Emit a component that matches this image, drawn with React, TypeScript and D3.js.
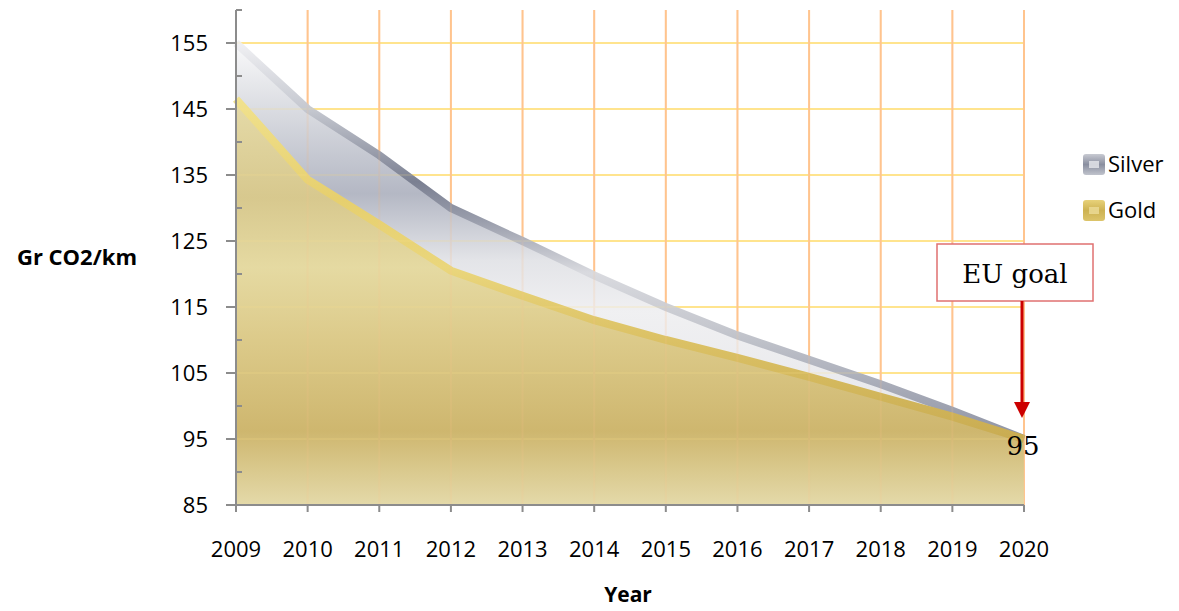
import React from "react";
import * as d3 from "d3";

const years = [2009, 2010, 2011, 2012, 2013, 2014, 2015, 2016, 2017, 2018, 2019, 2020];
const silver = [155, 145, 138, 130, 125, 119.8, 115, 110.7, 107, 103.3, 99.3, 95];
const gold = [146.5, 134.3, 127.5, 120.5, 116.7, 113, 110, 107.3, 104.4, 101.4, 98.4, 95];
const yTicks = [85, 95, 105, 115, 125, 135, 145, 155];
const yMinorTicks = [90, 100, 110, 120, 130, 140, 150, 160];

const W = 1179;
const H = 611;

export default function App() {
  const x = d3.scaleLinear().domain([2009, 2020]).range([236, 1024]);
  const y = d3.scaleLinear().domain([85, 160]).range([505, 10]);

  const area = (vals: number[]) =>
    d3
      .area<number>()
      .x((_, i) => x(years[i]))
      .y0(y(85))
      .y1((d) => y(d))(vals) as string;
  const line = (vals: number[]) =>
    d3
      .line<number>()
      .x((_, i) => x(years[i]))
      .y((d) => y(d))(vals) as string;

  const grid = (op: number) => (
    <g opacity={op}>
      {yTicks.slice(1).map((t) => (
        <line key={"h" + t} x1={x(2009)} x2={x(2020)} y1={y(t)} y2={y(t)} stroke="#FFE48E" strokeWidth={2} />
      ))}
      {years.slice(1).map((yr) => (
        <line key={"v" + yr} x1={x(yr)} x2={x(yr)} y1={y(160)} y2={y(85)} stroke="#FFC48E" strokeWidth={2} />
      ))}
    </g>
  );

  return (
    <svg width={W} height={H} style={{ position: "absolute", left: 0, top: 0 }} fontFamily="'Open Sans', sans-serif">
      <defs>
        <linearGradient id="silverFill" gradientUnits="userSpaceOnUse" x1="0" y1={y(155)} x2="0" y2={y(95)}>
          <stop offset="0" stopColor="#f9f9fa" />
          <stop offset="0.18" stopColor="#d6d8de" />
          <stop offset="0.38" stopColor="#b0b4c1" />
          <stop offset="0.55" stopColor="#e2e3e7" />
          <stop offset="0.68" stopColor="#efeff1" />
          <stop offset="1" stopColor="#e4e5e9" />
        </linearGradient>
        <linearGradient id="silverLine" gradientUnits="userSpaceOnUse" x1="0" y1={y(155)} x2="0" y2={y(95)}>
          <stop offset="0" stopColor="#f0f0f3" />
          <stop offset="0.17" stopColor="#c4c7cf" />
          <stop offset="0.35" stopColor="#7b8092" />
          <stop offset="0.45" stopColor="#9a9eac" />
          <stop offset="0.58" stopColor="#d9dadf" />
          <stop offset="0.72" stopColor="#c5c7ce" />
          <stop offset="1" stopColor="#8e93a4" />
        </linearGradient>
        <linearGradient id="goldFill" gradientUnits="userSpaceOnUse" x1="0" y1={y(147)} x2="0" y2={y(85)}>
          <stop offset="0" stopColor="#e6dba6" />
          <stop offset="0.25" stopColor="#d9c98b" />
          <stop offset="0.42" stopColor="#e5d99e" />
          <stop offset="0.6" stopColor="#dbc884" />
          <stop offset="0.82" stopColor="#cdb468" />
          <stop offset="1" stopColor="#e4d9a6" />
        </linearGradient>
        <linearGradient id="goldLine" gradientUnits="userSpaceOnUse" x1="0" y1={y(147)} x2="0" y2={y(95)}>
          <stop offset="0" stopColor="#f1e28f" />
          <stop offset="0.3" stopColor="#e6cf6e" />
          <stop offset="0.5" stopColor="#ead67c" />
          <stop offset="0.7" stopColor="#dcc266" />
          <stop offset="1" stopColor="#c9ac52" />
        </linearGradient>
        <linearGradient id="legSilver" x1="0" y1="0" x2="0" y2="1">
          <stop offset="0" stopColor="#c8cad2" />
          <stop offset="0.5" stopColor="#8a8fa0" />
          <stop offset="1" stopColor="#c0c3cc" />
        </linearGradient>
        <linearGradient id="legGold" x1="0" y1="0" x2="0" y2="1">
          <stop offset="0" stopColor="#e8d27a" />
          <stop offset="0.5" stopColor="#cdb252" />
          <stop offset="1" stopColor="#dcc46a" />
        </linearGradient>
      </defs>

      {grid(1)}

      <path d={area(silver)} fill="url(#silverFill)" opacity={0.95} />
      <path d={area(gold)} fill="url(#goldFill)" opacity={0.95} />
      <path d={line(silver)} fill="none" stroke="url(#silverLine)" strokeWidth={8} />
      <path d={line(gold)} fill="none" stroke="url(#goldLine)" strokeWidth={8} />

      {grid(0.15)}

      {/* Y axis */}
      <line x1={x(2009)} x2={x(2009)} y1={y(160)} y2={y(85)} stroke="#8c8c8c" strokeWidth={2} />
      {yTicks.map((t) => (
        <g key={"yt" + t}>
          <line x1={226} x2={x(2009)} y1={y(t)} y2={y(t)} stroke="#8c8c8c" strokeWidth={2} />
          <text x={208} y={y(t)} dy="0.35em" textAnchor="end" fontSize={22} fill="#000">
            {t}
          </text>
        </g>
      ))}
      {yMinorTicks.map((t) => (
        <line key={"ym" + t} x1={x(2009)} x2={x(2009) + 6} y1={y(t)} y2={y(t)} stroke="#8c8c8c" strokeWidth={2} />
      ))}

      {/* X axis */}
      <line x1={x(2009)} x2={x(2020)} y1={y(85)} y2={y(85)} stroke="#8c8c8c" strokeWidth={2} />
      {years.map((yr) => (
        <g key={"xt" + yr}>
          <line x1={x(yr)} x2={x(yr)} y1={y(85)} y2={y(85) + 7} stroke="#8c8c8c" strokeWidth={2} />
          <text x={x(yr)} y={557} textAnchor="middle" fontSize={22} fill="#000">
            {yr}
          </text>
        </g>
      ))}

      <text x={77} y={265} textAnchor="middle" fontSize={22} fontWeight="bold" fill="#000">
        Gr CO2/km
      </text>
      <text x={628} y={602} textAnchor="middle" fontSize={21} fontWeight="bold" fill="#000">
        Year
      </text>

      {/* Legend */}
      <rect x={1083} y={154} width={22} height={21} rx={3} fill="url(#legSilver)" />
      <rect x={1089} y={161} width={10} height={7} fill="#e6e7ec" opacity={0.8} />
      <text x={1108} y={172} fontSize={22} fill="#000">Silver</text>
      <rect x={1083} y={200} width={22} height={21} rx={3} fill="url(#legGold)" />
      <rect x={1089} y={207} width={10} height={7} fill="#ecdc98" opacity={0.8} />
      <text x={1108} y={218} fontSize={22} fill="#000">Gold</text>

      {/* EU goal annotation */}
      <rect x={937} y={244} width={156} height={57} fill="#fff" stroke="#e07070" strokeWidth={1.5} />
      <text x={1015} y={283} textAnchor="middle" fontSize={26} fontFamily="'DejaVu Serif', serif" fill="#000">
        EU goal
      </text>
      <line x1={1022} x2={1022} y1={301} y2={405} stroke="#cc0000" strokeWidth={3} />
      <polygon points="1014,402 1030,402 1022,418" fill="#cc0000" />
      <text x={1023} y={455} textAnchor="middle" fontSize={26} fontFamily="'DejaVu Serif', serif" fill="#000">
        95
      </text>
    </svg>
  );
}
